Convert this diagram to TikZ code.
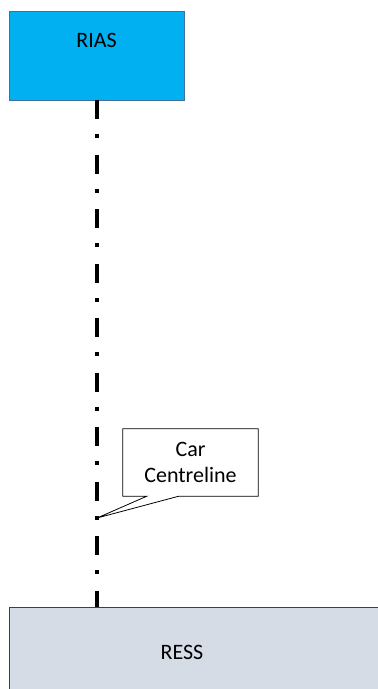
\documentclass[tikz,border=0pt]{standalone}
\usepackage{fontspec}
\setmainfont{Carlito}
\usepackage{tikz}
\usepackage{xcolor}
\usetikzlibrary{positioning, calc}

\definecolor{riasblue}{HTML}{00B0F0}
\definecolor{riasedge}{HTML}{41719C}
\definecolor{ressgrey}{HTML}{D6DCE5}
\definecolor{ressedge}{HTML}{404040}

\begin{document}
\begin{tikzpicture}[x=1pt, y=-1pt, font=\fontsize{22}{26.5}\selectfont,
    riasbox/.style={rectangle, draw=riasedge, fill=riasblue, line width=0.8pt, minimum width=175pt, inner ysep=0pt, text height=36pt, text depth=53pt},
    ressbox/.style={rectangle, draw=ressedge, fill=ressgrey, line width=0.8pt, minimum width=400pt, minimum height=100pt, anchor=north west},
    centreline/.style={line width=4pt, dash pattern=on 19pt off 15pt on 4pt off 16.5pt},
    calloutbox/.style={rectangle, minimum width=135pt, minimum height=67pt, align=center, inner sep=0pt}]

    \useasboundingbox (0,0) rectangle (378,689);

    \node[riasbox] (rias) at (96.5,55.5) {RIAS};
    \node[ressbox] (ress) at (9,607) {};
    \node[anchor=base] (resstext) at (182,659) {RESS};

    \draw[centreline] (rias.south) -- (rias.south |- ress.north);

    % speech bubble pointing at the line
    \node[calloutbox] (callout) at (190.5,462.5) {Car\\Centreline};
    \coordinate (tip) at (97,518);
    \draw[line width=0.8pt]
        (callout.south west) -- ($(callout.south west)+(24,0)$) -- (tip)
        -- ($(callout.south west)+(56,0)$) -- (callout.south east)
        -- (callout.north east) -- (callout.north west) -- cycle;

\end{tikzpicture}
\end{document}
